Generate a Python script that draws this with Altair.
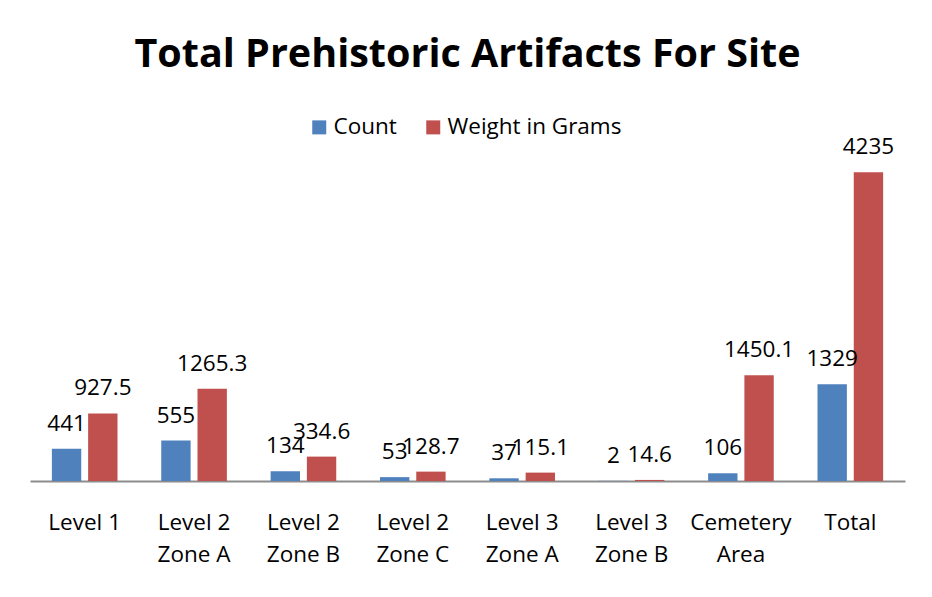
import altair as alt
import pandas as pd

categories = ["Level 1", "Level 2\nZone A", "Level 2\nZone B", "Level 2\nZone C",
              "Level 3\nZone A", "Level 3\nZone B", "Cemetery\nArea", "Total"]
series_names = ["Count", "Weight in Grams"]
count = [441, 555, 134, 53, 37, 2, 106, 1329]
weight = [927.5, 1265.3, 334.6, 128.7, 115.1, 14.6, 1450.1, 4235]
colors = ["#4F81BD", "#C0504D"]

rows = []
for c, v in zip(categories, count):
    rows.append({"category": c, "series": series_names[0], "value": v, "label": f"{v:g}"})
for c, v in zip(categories, weight):
    rows.append({"category": c, "series": series_names[1], "value": v, "label": f"{v:g}"})
df = pd.DataFrame(rows)

FONT = "Open Sans"

x = alt.X("category:N", sort=categories,
          scale=alt.Scale(paddingInner=0.4, paddingOuter=0.2),
          axis=alt.Axis(title=None, labelAngle=0, labelExpr="split(datum.label, '\\n')",
                        ticks=False, tickSize=0, labelPadding=30, labelBaseline="top",
                        labelLineHeight=32, labelFontSize=22.5, labelFont=FONT,
                        labelColor="black", domainColor="#8C8C8C", domainWidth=2,
                        grid=False, labelLimit=200))
xo = alt.XOffset("series:N", sort=series_names,
                 scale=alt.Scale(paddingInner=0.19, paddingOuter=0))
y = alt.Y("value:Q", scale=alt.Scale(domain=[0, 4500]), axis=None)

bars = alt.Chart(df).mark_bar().encode(
    x=x, xOffset=xo, y=y,
    color=alt.Color("series:N", sort=series_names,
                    scale=alt.Scale(domain=series_names, range=colors),
                    legend=alt.Legend(title=None, orient="none", legendX=278, legendY=-37,
                                      direction="horizontal", symbolType="square",
                                      symbolSize=196, symbolStrokeWidth=0,
                                      labelFontSize=22.5, labelFont=FONT, labelColor="black",
                                      labelOffset=3, columnPadding=25, padding=0,
                                      labelLimit=400))
)

labels = alt.Chart(df).mark_text(dy=-18, baseline="alphabetic", fontSize=22.5,
                                 font=FONT, color="black").encode(
    x=x, xOffset=xo, y=y, text="label:N"
)

chart = alt.layer(bars, labels).properties(
    width=875, height=328,
    background="white",
    title=alt.TitleParams("Total Prehistoric Artifacts For Site", fontSize=39.5,
                          font=FONT, fontWeight="bold", color="black",
                          anchor="middle", baseline="alphabetic", offset=10),
    autosize=alt.AutoSizeParams(type="none"),
    padding={"left": 22, "top": 145, "right": 19, "bottom": 116},
).configure_view(strokeWidth=0)

chart.save("out.html", embed_options={"renderer": "svg", "actions": False})
